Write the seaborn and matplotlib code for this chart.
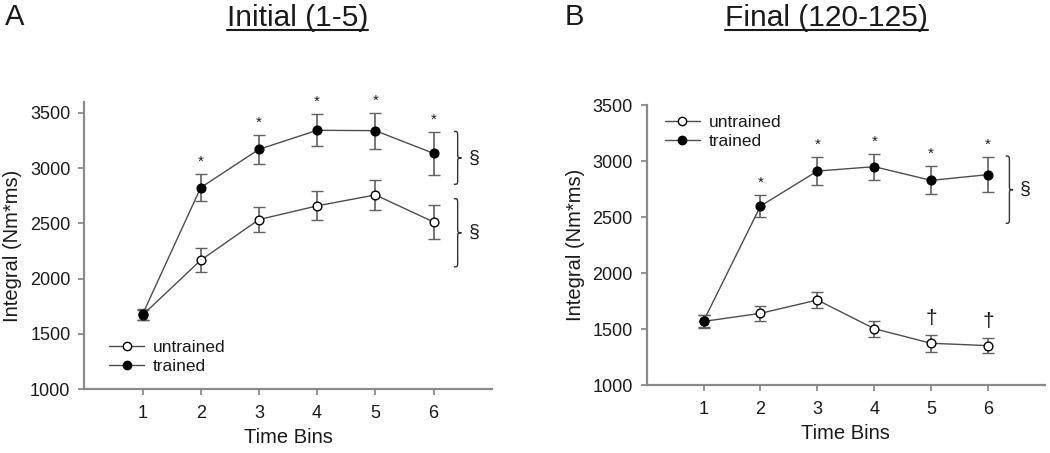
import pandas as pd
import seaborn as sns
import matplotlib.pyplot as plt
from matplotlib.path import Path
from matplotlib.patches import PathPatch
from matplotlib.lines import Line2D

# ---- data ----
bins = [1, 2, 3, 4, 5, 6]

# A: Initial (1-5)
init_untrained = [1670, 2167, 2534, 2658, 2757, 2513]
init_untrained_err = [45, 107, 113, 131, 135, 152]
init_trained = [1677, 2823, 3169, 3341, 3338, 3133]
init_trained_err = [50, 120, 130, 145, 162, 195]

# B: Final (120-125)
final_untrained = [1570, 1642, 1761, 1505, 1375, 1354]
final_untrained_err = [55, 65, 68, 72, 75, 66]
final_trained = [1574, 2599, 2911, 2950, 2828, 2879]
final_trained_err = [55, 98, 126, 116, 125, 155]

init_star_bins = [2, 3, 4, 5, 6]
final_star_bins = [2, 3, 4, 5, 6]
final_dagger_bins = [5, 6]

# brace ranges (low, high) with a section sign next to each
init_braces = [(2853, 3331), (2107, 2723)]
final_braces = [(2445, 3045)]

y_ticks = [1000, 1500, 2000, 2500, 3000, 3500]

sns.set_style('ticks')
plt.rcParams['font.family'] = ['Liberation Sans', 'DejaVu Sans']

line_c = '#4d4d4d'
err_c = '#606060'
spine_c = '#8a8a8a'
text_c = '#1a1a1a'

fig = plt.figure(figsize=(10.5, 4.53), dpi=100)
axA = fig.add_axes([0.0803, 0.1406, 0.388, 0.635])
axB = fig.add_axes([0.6159, 0.1494, 0.3793, 0.6188])


def brace(ax, x0, lo, hi, w=0.13, d=50):
    xm = x0 + w / 2
    ym = (lo + hi) / 2
    verts = [(x0, hi), (xm, hi), (xm, hi), (xm, hi - d),
             (xm, ym + d),
             (xm, ym), (xm, ym), (x0 + w, ym),
             (xm, ym), (xm, ym), (xm, ym - d),
             (xm, lo + d),
             (xm, lo), (xm, lo), (x0, lo)]
    codes = [Path.MOVETO, Path.CURVE4, Path.CURVE4, Path.CURVE4,
             Path.LINETO,
             Path.CURVE4, Path.CURVE4, Path.CURVE4,
             Path.CURVE4, Path.CURVE4, Path.CURVE4,
             Path.LINETO,
             Path.CURVE4, Path.CURVE4, Path.CURVE4]
    ax.add_patch(PathPatch(Path(verts, codes), fc='none', ec='#333333',
                           lw=1.0, clip_on=False))
    ax.text(x0 + w + 0.22, ym, '\u00a7', fontsize=14, ha='center', va='center',
            color=text_c, clip_on=False)


def draw_panel(ax, untrained, u_err, trained, t_err, ylim):
    df = pd.DataFrame({
        'bin': bins * 2,
        'value': untrained + trained,
        'group': ['untrained'] * 6 + ['trained'] * 6,
    })
    sns.lineplot(data=df, x='bin', y='value', hue='group',
                 palette={'untrained': line_c, 'trained': line_c},
                 lw=1.0, ax=ax, legend=False, zorder=1)
    ax.errorbar(bins, untrained, yerr=u_err, fmt='o', mfc='white', mec='black',
                mew=1.0, ms=6.3, ecolor=err_c, elinewidth=1.2, capsize=4,
                capthick=1.2, zorder=3)
    ax.errorbar(bins, trained, yerr=t_err, fmt='o', mfc='black', mec='black',
                mew=1.0, ms=6.3, ecolor=err_c, elinewidth=1.2, capsize=4,
                capthick=1.2, zorder=3)
    ax.set_xlim(0, 7)
    ax.set_ylim(*ylim)
    ax.set_xticks(bins)
    ax.set_yticks(y_ticks)
    ax.set_xlabel('Time Bins', fontsize=14.5, color=text_c, labelpad=4)
    ax.set_ylabel('Integral (Nm*ms)', fontsize=14.5, color=text_c, labelpad=5.5)
    ax.tick_params(axis='both', labelsize=13, colors=spine_c, labelcolor=text_c,
                   length=4, width=1.3, direction='out')
    ax.tick_params(axis='x', pad=7.5)
    ax.tick_params(axis='y', pad=6)
    for s in ['left', 'bottom']:
        ax.spines[s].set_color(spine_c)
        ax.spines[s].set_linewidth(1.6)
    sns.despine(ax=ax)

    handles = [
        Line2D([], [], color=line_c, lw=1.0, marker='o', mfc='white', mec='black', ms=6),
        Line2D([], [], color=line_c, lw=1.0, marker='o', mfc='black', mec='black', ms=6),
    ]
    return handles


hA = draw_panel(axA, init_untrained, init_untrained_err, init_trained,
                init_trained_err, (1000, 3600))
hB = draw_panel(axB, final_untrained, final_untrained_err, final_trained,
                final_trained_err, (1000, 3500))

# significance markers
for b in init_star_bins:
    i = bins.index(b)
    axA.annotate('*', xy=(b, init_trained[i] + init_trained_err[i]), xytext=(0, 6),
                 textcoords='offset points', ha='center', va='baseline',
                 fontsize=11, color=text_c, annotation_clip=False)
for b in final_star_bins:
    i = bins.index(b)
    axB.annotate('*', xy=(b, final_trained[i] + final_trained_err[i]), xytext=(0, 6),
                 textcoords='offset points', ha='center', va='baseline',
                 fontsize=11, color=text_c, annotation_clip=False)
for b in final_dagger_bins:
    i = bins.index(b)
    axB.annotate('\u2020', xy=(b, final_untrained[i] + final_untrained_err[i]),
                 xytext=(0, 8), textcoords='offset points', ha='center',
                 va='baseline', fontsize=15, color=text_c, annotation_clip=False)

for lo, hi in init_braces:
    brace(axA, 6.35, lo, hi)
for lo, hi in final_braces:
    brace(axB, 6.31, lo, hi)

legA = axA.legend(hA, ['untrained', 'trained'], loc='upper left',
                  bbox_to_anchor=(0.061, 0.172), frameon=False, fontsize=12.5,
                  borderaxespad=0, borderpad=0, handlelength=2.0,
                  handletextpad=0.5, labelspacing=0.2)
legB = axB.legend(hB, ['untrained', 'trained'], loc='upper left',
                  bbox_to_anchor=(0.046, 0.964), frameon=False, fontsize=12.5,
                  borderaxespad=0, borderpad=0, handlelength=2.0,
                  handletextpad=0.5, labelspacing=0.2)
for leg in (legA, legB):
    for t in leg.get_texts():
        t.set_color(text_c)

# panel letters and titles
fig.text(0.005, 0.9448, 'A', fontsize=21, ha='left', va='baseline', color=text_c)
fig.text(0.538, 0.9448, 'B', fontsize=21, ha='left', va='baseline', color=text_c)
tA = fig.text(0.2162, 0.9426, 'Initial (1-5)', fontsize=21.5, ha='left',
              va='baseline', color=text_c)
tB = fig.text(0.6905, 0.9426, 'Final (120-125)', fontsize=21.5, ha='left',
              va='baseline', color=text_c)

fig.canvas.draw()
renderer = fig.canvas.get_renderer()
inv = fig.transFigure.inverted()
for t in (tA, tB):
    bb = t.get_window_extent(renderer)
    (x0, _), (x1, _) = inv.transform([(bb.x0, 0), (bb.x1, 0)])
    yline = 1 - 29.5 / 453
    fig.add_artist(Line2D([x0, x1], [yline, yline], transform=fig.transFigure,
                          color=text_c, lw=1.5))

fig.savefig('out.png', dpi=100)
